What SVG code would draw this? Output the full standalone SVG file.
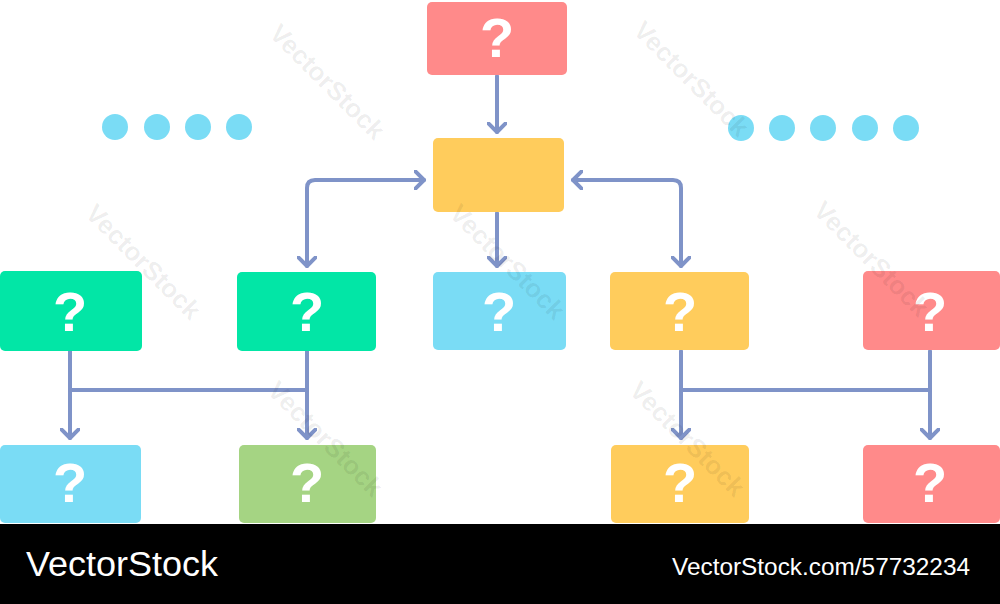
<svg xmlns="http://www.w3.org/2000/svg" width="1000" height="604" viewBox="0 0 1000 604">
<defs>
<style>
.red{fill:#ff8a8a}.yel{fill:#ffcc5c}.grn{fill:#02e6a6}.blu{fill:#7adcf5}.olv{fill:#a5d483}
.q{fill:#fff;font-family:"Liberation Sans",Arial,sans-serif;font-weight:bold;font-size:56px;text-anchor:middle}
.ln{fill:none;stroke:#7f93c8;stroke-width:4;stroke-linecap:round;stroke-linejoin:round}
.dot{fill:#7adcf5}
.wm{fill:#000;fill-opacity:0.07;font-family:"Liberation Sans",Arial,sans-serif;font-size:26px;font-weight:bold}
.bar{fill:#fff;font-family:"Liberation Sans",Arial,sans-serif}
</style>
<marker id="ah" viewBox="0 0 20 20" refX="10" refY="10" markerWidth="20" markerHeight="20" markerUnits="userSpaceOnUse" orient="auto-start-reverse">
<polyline points="1,1 10,10 1,19" fill="none" stroke="#7f93c8" stroke-width="4" stroke-linecap="round" stroke-linejoin="round"/>
</marker>
</defs>
<rect width="1000" height="604" fill="#fff"/>
<g id="dots-left">
<circle class="dot" cx="115" cy="127" r="13"/><circle class="dot" cx="157" cy="127" r="13"/><circle class="dot" cx="198" cy="127" r="13"/><circle class="dot" cx="239" cy="127" r="13"/>
</g>
<g id="dots-right">
<circle class="dot" cx="741" cy="128" r="13"/><circle class="dot" cx="782" cy="128" r="13"/><circle class="dot" cx="823" cy="128" r="13"/><circle class="dot" cx="865" cy="128" r="13"/><circle class="dot" cx="906" cy="128" r="13"/>
</g>
<g id="connectors">
<line class="ln" x1="497" y1="76" x2="497" y2="132" marker-end="url(#ah)"/>
<line class="ln" x1="497" y1="213" x2="497" y2="266" marker-end="url(#ah)"/>
<path class="ln" d="M307,266 V188 Q307,180 315,180 H424" marker-start="url(#ah)" marker-end="url(#ah)"/>
<path class="ln" d="M573,180 H673 Q681,180 681,188 V266" marker-start="url(#ah)" marker-end="url(#ah)"/>
<line class="ln" x1="70" y1="351" x2="70" y2="438" marker-end="url(#ah)"/>
<line class="ln" x1="307" y1="351" x2="307" y2="438" marker-end="url(#ah)"/>
<line class="ln" x1="70" y1="390" x2="307" y2="390"/>
<line class="ln" x1="681" y1="351" x2="681" y2="438" marker-end="url(#ah)"/>
<line class="ln" x1="930" y1="351" x2="930" y2="438" marker-end="url(#ah)"/>
<line class="ln" x1="681" y1="390" x2="930" y2="390"/>
</g>
<g id="n-top"><rect class="red" x="427" y="2" width="140" height="73" rx="5"/><text class="q" x="497" y="57">?</text></g>
<g id="n-mid"><rect class="yel" x="433" y="138" width="131" height="74" rx="5"/></g>
<g id="n-g1"><rect class="grn" x="0" y="271" width="142" height="80" rx="5"/><text class="q" x="70" y="331">?</text></g>
<g id="n-g2"><rect class="grn" x="237" y="272" width="139" height="79" rx="5"/><text class="q" x="307" y="331">?</text></g>
<g id="n-b1"><rect class="blu" x="433" y="272" width="133" height="78" rx="5"/><text class="q" x="499" y="331">?</text></g>
<g id="n-y1"><rect class="yel" x="610" y="272" width="139" height="78" rx="5"/><text class="q" x="680" y="331">?</text></g>
<g id="n-r1"><rect class="red" x="863" y="271" width="137" height="79" rx="5"/><text class="q" x="930" y="331">?</text></g>
<g id="n-b2"><rect class="blu" x="0" y="445" width="141" height="78" rx="5"/><text class="q" x="70" y="502">?</text></g>
<g id="n-o1"><rect class="olv" x="239" y="445" width="137" height="78" rx="5"/><text class="q" x="307" y="502">?</text></g>
<g id="n-y2"><rect class="yel" x="611" y="445" width="138" height="78" rx="5"/><text class="q" x="680" y="502">?</text></g>
<g id="n-r2"><rect class="red" x="863" y="445" width="137" height="78" rx="5"/><text class="q" x="930" y="502">?</text></g>
<g id="watermarks">
<text class="wm" transform="translate(268,35) rotate(45)">VectorStock</text>
<text class="wm" transform="translate(632,32) rotate(45)">VectorStock</text>
<text class="wm" transform="translate(84,215) rotate(45)">VectorStock</text>
<text class="wm" transform="translate(448,215) rotate(45)">VectorStock</text>
<text class="wm" transform="translate(812,212) rotate(45)">VectorStock</text>
<text class="wm" transform="translate(266,392) rotate(45)">VectorStock</text>
<text class="wm" transform="translate(628,392) rotate(45)">VectorStock</text>
</g>
<g id="footer">
<rect x="0" y="524" width="1000" height="80" fill="#000"/>
<text class="bar" x="26" y="576" font-size="35" textLength="192" lengthAdjust="spacingAndGlyphs">VectorStock</text>
<text class="bar" x="672" y="575" font-size="24" textLength="298" lengthAdjust="spacingAndGlyphs">VectorStock.com/57732234</text>
</g>
</svg>
